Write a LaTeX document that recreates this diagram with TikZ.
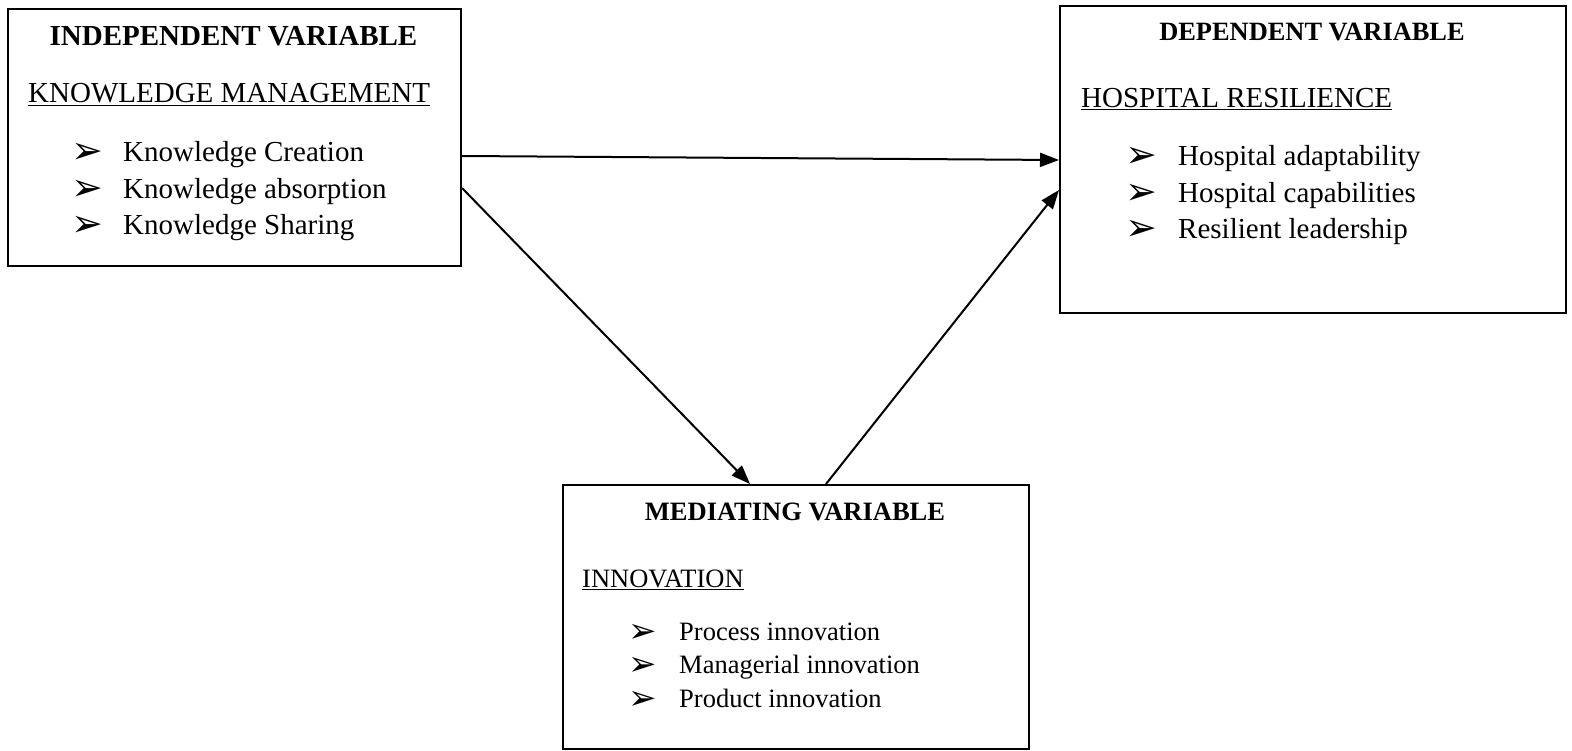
\documentclass[tikz,border=0pt]{standalone}
\usepackage{fontspec}
\setmainfont{Liberation Serif}
\newfontfamily\dingfont{DejaVu Sans}
\usetikzlibrary{arrows.meta}

\newcommand\sizeL{\fontsize{29}{36}\selectfont}
\newcommand\sizeM{\fontsize{26.5}{33}\selectfont}

\begin{document}
\begin{tikzpicture}[
    x=1pt, y=-1pt, % one unit is one pixel of the layout, y grows downwards
    varbox/.style={
        draw, % plain black frame
        line width=2pt,
        inner sep=0pt,
        anchor=north west
    },
    boxtitle/.style={anchor=base, inner sep=0pt}, % bold heading, centred in its box
    construct/.style={anchor=base west, inner sep=0pt}, % underlined construct name
    item/.style={anchor=base west, inner sep=0pt}, % one dimension of the construct
    bulletmark/.style={anchor=base, inner sep=0pt, text height=19pt, text depth=0pt,
        font=\dingfont\fontsize{38}{38}\selectfont},
    smallmark/.style={bulletmark, text height=17pt, font=\dingfont\fontsize{34}{34}\selectfont},
    link/.style={line width=2pt, -{Triangle[length=19pt,width=14pt]}} % hypothesised path
]
\useasboundingbox (0,0) rectangle (1572,751);

% the three boxes
\node[varbox, minimum width=453pt, minimum height=257pt] (indep) at (7,8) {};
\node[varbox, minimum width=506pt, minimum height=307pt] (dep) at (1059,5) {};
\node[varbox, minimum width=466pt, minimum height=264pt] (med) at (562,484) {};

% independent variable
\node[boxtitle, font=\sizeL\bfseries] (indeptitle) at (233.5,46) {INDEPENDENT VARIABLE};
\node[construct, font=\sizeL] (km) at (28,103) {\underline{KNOWLEDGE MANAGEMENT}};
\foreach \txt [count=\i] in {Knowledge Creation, Knowledge absorption, Knowledge Sharing} {
    \node[bulletmark] (kmmark\i) at (87,{164+36.5*(\i-1)}) {➢};
    \node[item, font=\sizeL] (kmitem\i) at (123,{162+36.5*(\i-1)}) {\txt};
}

% dependent variable
\node[boxtitle, font=\fontsize{26.4}{33}\selectfont\bfseries] (deptitle) at (1312,41) {DEPENDENT VARIABLE};
\node[construct, font=\sizeL] (hr) at (1081,108) {\underline{HOSPITAL RESILIENCE}};
\foreach \txt [count=\i] in {Hospital adaptability, Hospital capabilities, Resilient leadership} {
    \node[bulletmark] (hrmark\i) at (1141,{168+36.5*(\i-1)}) {➢};
    \node[item, font=\sizeL] (hritem\i) at (1178,{166+36.5*(\i-1)}) {\txt};
}

% mediating variable
\node[boxtitle, font=\sizeM\bfseries] (medtitle) at (795,520) {MEDIATING VARIABLE};
\node[construct, font=\sizeM] (inno) at (582,587) {\underline{INNOVATION}};
\foreach \txt [count=\i] in {Process innovation, Managerial innovation, Product innovation} {
    \node[smallmark] (innomark\i) at (642.5,{642+33.5*(\i-1)}) {➢};
    \node[item, font=\sizeM] (innoitem\i) at (679,{640+33.5*(\i-1)}) {\txt};
}

% paths
\draw[link] ([yshift=-148pt]indep.north east) -- ([yshift=-155pt]dep.north west);
\draw[link] ([yshift=-180pt]indep.north east) -- ([xshift=188pt]med.north west);
\draw[link] ([xshift=264pt]med.north west) -- ([yshift=-185pt]dep.north west);
\end{tikzpicture}
\end{document}
